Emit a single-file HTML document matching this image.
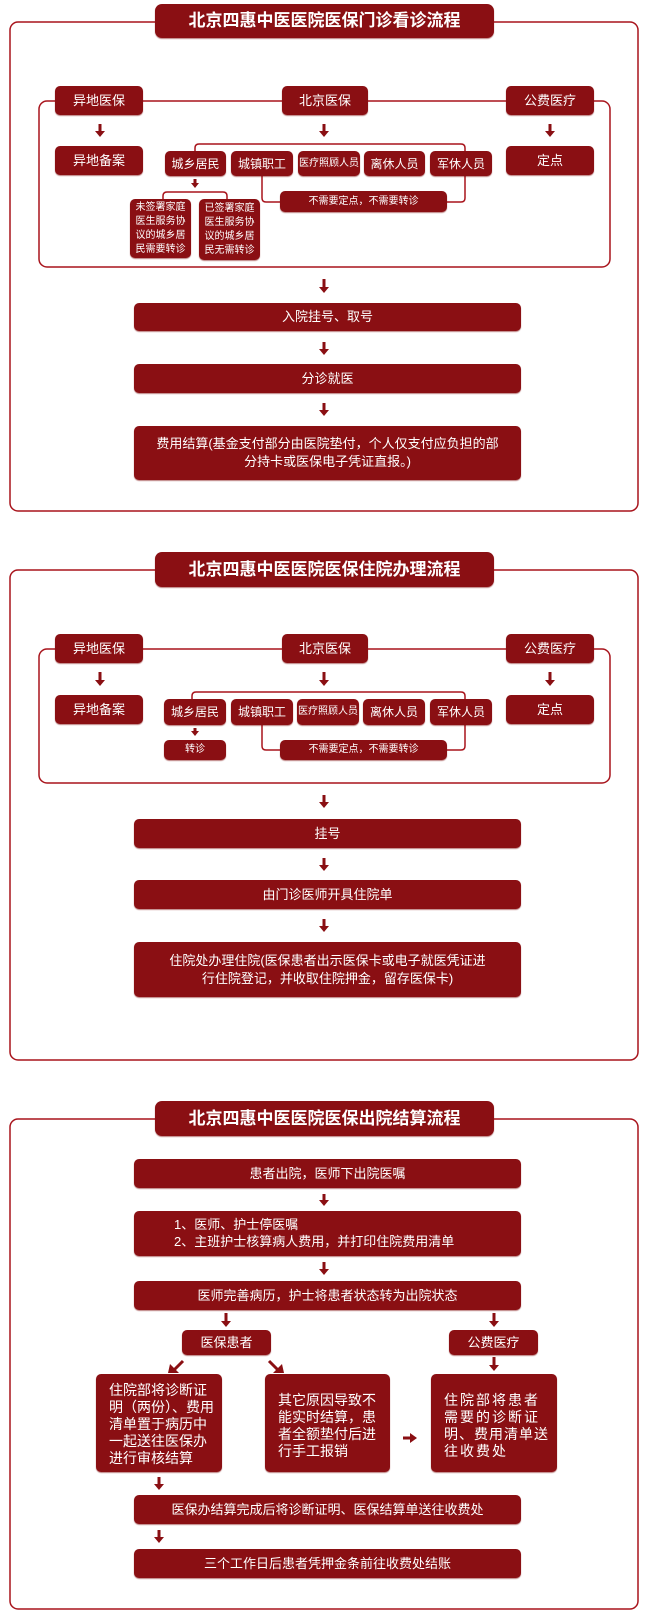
<!DOCTYPE html>
<html><head><meta charset="utf-8">
<style>
*{margin:0;padding:0;box-sizing:border-box}
body{width:646px;height:1620px;background:#fff;position:relative;overflow:hidden;font-family:"Liberation Sans","Noto Sans CJK SC",sans-serif;color:#fff}
svg{position:absolute;left:0;top:0}
.b{position:absolute;background:#8a0f13;border-radius:5px;display:flex;align-items:center;justify-content:center;text-align:center;font-size:13px;line-height:16px;box-shadow:0 1px 1px rgba(120,0,0,.5);white-space:nowrap}
.t{font-size:17px;font-weight:bold;border-radius:7px}
.s{font-size:11px}
.xs{font-size:10px}
.m{font-size:13px;line-height:18px}
.p{display:block;text-align:left;white-space:normal;font-size:14px;line-height:17px;padding:8px 6px 0 13px}
</style></head><body>
<svg width="646" height="1620" viewBox="0 0 646 1620">
<g fill="none" stroke="#a8141c" stroke-width="1.5">
<rect x="10" y="22" width="628" height="489" rx="8"/>
<rect x="39" y="101" width="571" height="166" rx="8"/>
<path d="M195 152V148Q195 144 199 144H461Q465 144 465 148V152"/>
<path d="M262 175V198Q262 202 266 202H282"/>
<path d="M465 175V198Q465 202 461 202H446"/>
<path d="M163 200V196Q163 192 167 192H223Q227 192 227 196V200"/>
<rect x="10" y="570" width="628" height="490" rx="8"/>
<rect x="39" y="649" width="571" height="134" rx="8"/>
<path d="M192 700V696Q192 692 196 692H461Q465 692 465 696V700"/>
<path d="M262 724V746Q262 750 266 750H282"/>
<path d="M465 724V746Q465 750 461 750H446"/>
<rect x="10" y="1119" width="628" height="490" rx="8"/>
</g>
<g fill="#8a0f13" stroke="#8a0f13" stroke-width="3">
<path d="M100 124V132M324 124V132M550 124V132M195 179V184M324 279V288M324 342V350M324 403V411"/>
<path d="M100 672V681M324 672V681M550 672V681M195 728V732M324 795V803M324 858V866M324 919V927"/>
<path d="M324 1194V1201M324 1262V1270M226 1313V1322M494 1313V1322M494 1357V1366M159 1477V1485M159 1530V1538M403 1438H411"/>
<path d="M183 1361L174 1370M269 1361L278 1370"/>
</g>
<g fill="#8a0f13">
<path d="M95 131h10l-5 6zM319 131h10l-5 6zM545 131h10l-5 6zM191 183h8l-4 5zM319 287h10l-5 6zM319 349h10l-5 6zM319 410h10l-5 6z"/>
<path d="M95 680h10l-5 6zM319 680h10l-5 6zM545 680h10l-5 6zM191 731h8l-4 5zM319 802h10l-5 6zM319 865h10l-5 6zM319 926h10l-5 6z"/>
<path d="M319 1200h10l-5 6zM319 1269h10l-5 6zM221 1321h10l-5 6zM489 1321h10l-5 6zM489 1365h10l-5 6zM154 1484h10l-5 6zM154 1537h10l-5 6zM410 1433v10l7-5z"/>
<path d="M170 1364l9 9h-11zM282 1364l-9 9h11z"/>
</g>
</svg>

<!-- Section 1 -->
<div class="b t" style="left:155px;top:4px;width:339px;height:34px">北京四惠中医医院医保门诊看诊流程</div>
<div class="b" style="left:55px;top:86px;width:88px;height:29px">异地医保</div>
<div class="b" style="left:282px;top:86px;width:86px;height:29px">北京医保</div>
<div class="b" style="left:506px;top:86px;width:88px;height:29px">公费医疗</div>
<div class="b" style="left:55px;top:146px;width:88px;height:29px">异地备案</div>
<div class="b" style="left:506px;top:146px;width:88px;height:29px">定点</div>
<div class="b s" style="left:165px;top:151px;width:61px;height:25px;font-size:12px">城乡居民</div>
<div class="b s" style="left:231px;top:151px;width:62px;height:25px;font-size:12px">城镇职工</div>
<div class="b xs" style="left:298px;top:151px;width:62px;height:25px">医疗照顾人员</div>
<div class="b s" style="left:364px;top:151px;width:61px;height:25px;font-size:12px">离休人员</div>
<div class="b s" style="left:430px;top:151px;width:62px;height:25px;font-size:12px">军休人员</div>
<div class="b xs" style="left:280px;top:191px;width:167px;height:21px">不需要定点，不需要转诊</div>
<div class="b xs" style="left:130px;top:199px;width:61px;height:59px;line-height:14px;white-space:normal;padding:0 3px">未签署家庭医生服务协议的城乡居民需要转诊</div>
<div class="b xs" style="left:199px;top:199px;width:61px;height:61px;line-height:14px;white-space:normal;padding:0 3px">已签署家庭医生服务协议的城乡居民无需转诊</div>
<div class="b" style="left:134px;top:303px;width:387px;height:28px">入院挂号、取号</div>
<div class="b" style="left:134px;top:364px;width:387px;height:29px">分诊就医</div>
<div class="b m" style="left:134px;top:426px;width:387px;height:54px">费用结算(基金支付部分由医院垫付，个人仅支付应负担的部<br>分持卡或医保电子凭证直报。)</div>

<!-- Section 2 -->
<div class="b t" style="left:155px;top:552px;width:339px;height:35px">北京四惠中医医院医保住院办理流程</div>
<div class="b" style="left:55px;top:634px;width:88px;height:29px">异地医保</div>
<div class="b" style="left:282px;top:634px;width:86px;height:29px">北京医保</div>
<div class="b" style="left:506px;top:634px;width:88px;height:29px">公费医疗</div>
<div class="b" style="left:55px;top:695px;width:88px;height:29px">异地备案</div>
<div class="b" style="left:506px;top:695px;width:88px;height:29px">定点</div>
<div class="b s" style="left:164px;top:699px;width:62px;height:26px;font-size:12px">城乡居民</div>
<div class="b s" style="left:231px;top:699px;width:62px;height:26px;font-size:12px">城镇职工</div>
<div class="b xs" style="left:297px;top:699px;width:62px;height:26px">医疗照顾人员</div>
<div class="b s" style="left:363px;top:699px;width:62px;height:26px;font-size:12px">离休人员</div>
<div class="b s" style="left:430px;top:699px;width:62px;height:26px;font-size:12px">军休人员</div>
<div class="b xs" style="left:164px;top:740px;width:62px;height:20px">转诊</div>
<div class="b xs" style="left:280px;top:740px;width:167px;height:20px">不需要定点，不需要转诊</div>
<div class="b" style="left:134px;top:819px;width:387px;height:29px">挂号</div>
<div class="b" style="left:134px;top:880px;width:387px;height:29px">由门诊医师开具住院单</div>
<div class="b m" style="left:134px;top:942px;width:387px;height:55px">住院处办理住院(医保患者出示医保卡或电子就医凭证进<br>行住院登记，并收取住院押金，留存医保卡)</div>

<!-- Section 3 -->
<div class="b t" style="left:155px;top:1101px;width:339px;height:35px">北京四惠中医医院医保出院结算流程</div>
<div class="b" style="left:134px;top:1159px;width:387px;height:29px">患者出院，医师下出院医嘱</div>
<div class="b" style="left:134px;top:1211px;width:387px;height:45px;display:block;text-align:left;padding:5px 0 0 40px;line-height:17px">1、医师、护士停医嘱<br>2、主班护士核算病人费用，并打印住院费用清单</div>
<div class="b" style="left:134px;top:1281px;width:387px;height:29px">医师完善病历，护士将患者状态转为出院状态</div>
<div class="b" style="left:182px;top:1330px;width:89px;height:25px">医保患者</div>
<div class="b" style="left:449px;top:1330px;width:89px;height:25px">公费医疗</div>
<div class="b p" style="left:96px;top:1374px;width:126px;height:98px">住院部将诊断证明（两份）、费用清单置于病历中一起送往医保办进行审核结算</div>
<div class="b p" style="left:265px;top:1374px;width:125px;height:98px;padding-top:18px">其它原因导致不能实时结算，患者全额垫付后进行手工报销</div>
<div class="b p" style="left:431px;top:1374px;width:126px;height:98px;padding:18px 0 0 13px;white-space:nowrap;letter-spacing:2px">住院部将患者<br>需要的诊断证<br><span style="letter-spacing:1px">明、费用清单送</span><br>往收费处</div>
<div class="b" style="left:134px;top:1495px;width:387px;height:29px">医保办结算完成后将诊断证明、医保结算单送往收费处</div>
<div class="b" style="left:134px;top:1549px;width:387px;height:29px">三个工作日后患者凭押金条前往收费处结账</div>
</body></html>
